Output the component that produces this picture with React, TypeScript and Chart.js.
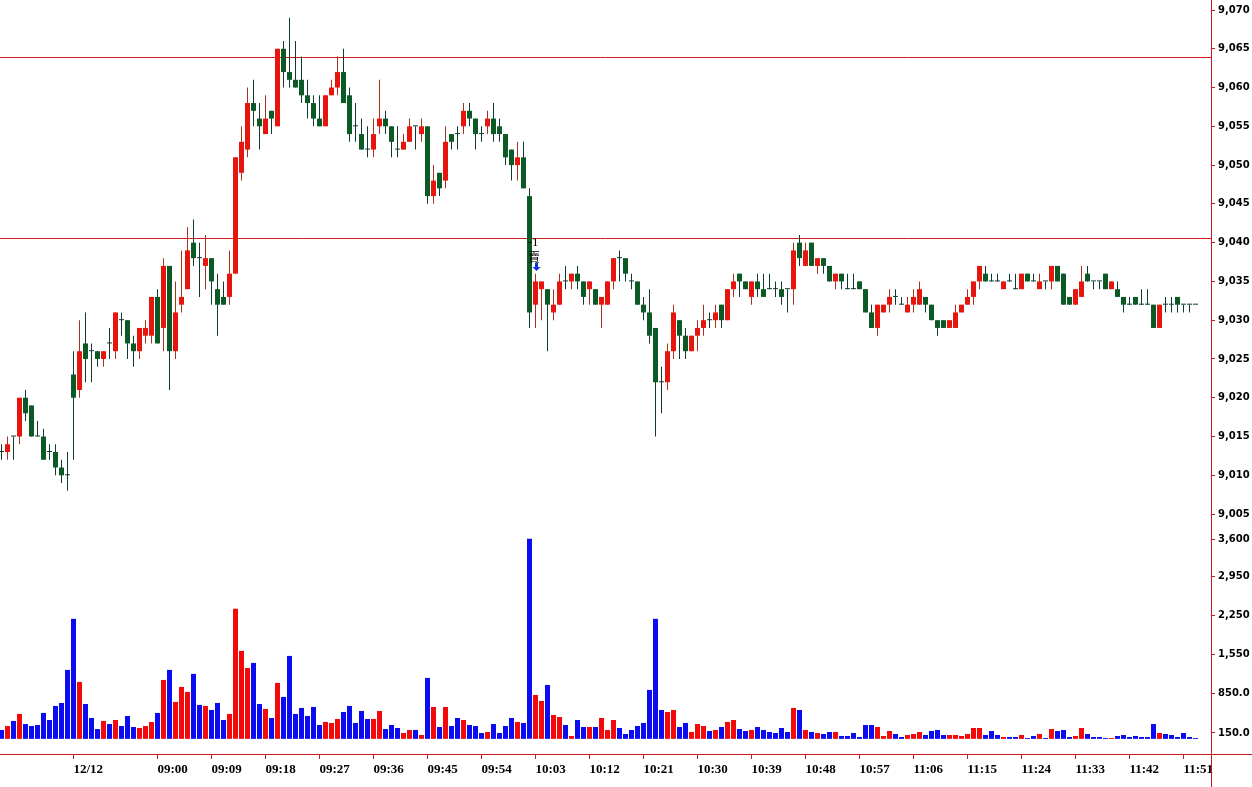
import React, { useEffect, useRef } from 'react';
import { Chart, registerables } from 'chart.js';

Chart.register(...registerables);

// ---- data (one entry per 1-minute bar) ----
const opens = [
  9013, 9013, 9015, 9015, 9020, 9019, 9015, 9015, 9013, 9013, 9011, 9010,
  9023, 9021, 9027, 9026, 9026, 9025, 9027, 9026, 9030, 9030, 9027, 9026, 9028, 9028,
  9033, 9029, 9037, 9026, 9032, 9034, 9040, 9038, 9037, 9038, 9034, 9033, 9033, 9036,
  9049, 9052, 9058, 9056, 9054, 9057, 9055, 9065, 9062, 9061, 9061, 9059, 9058, 9056,
  9055, 9059, 9060, 9062, 9059, 9055, 9054, 9052, 9052, 9055, 9056, 9055, 9052, 9052,
  9053, 9055, 9054, 9055, 9046, 9049, 9048, 9054, 9054, 9055, 9057, 9056, 9054, 9055,
  9056, 9055, 9054, 9052, 9050, 9051, 9046, 9032, 9034, 9034, 9031, 9032, 9035, 9035,
  9036, 9035, 9034, 9034, 9032, 9032, 9035, 9038, 9038, 9035, 9035, 9032, 9031, 9029,
  9022, 9022, 9026, 9030, 9028, 9026, 9028, 9029, 9030, 9030, 9032, 9030, 9034, 9036,
  9035, 9033, 9035, 9034, 9034, 9034, 9034, 9034, 9034, 9040, 9037, 9040, 9037, 9038,
  9037, 9035, 9036, 9034, 9034, 9035, 9034, 9031, 9029, 9031, 9032, 9033, 9032, 9031,
  9032, 9032, 9033, 9032, 9030, 9030, 9029, 9029, 9031, 9032, 9033, 9035, 9036, 9035,
  9035, 9034, 9035, 9034, 9034, 9036, 9035, 9034, 9035, 9035, 9037, 9036, 9033, 9032,
  9033, 9036, 9035, 9035, 9036, 9034, 9034, 9033, 9032, 9033, 9032, 9032, 9032, 9029,
  9032, 9032, 9033, 9032, 9032, 9032,
];
const highs = [
  9014, 9015, 9015, 9020, 9021, 9019, 9017, 9016, 9014, 9014, 9012, 9013,
  9026, 9030, 9031, 9027, 9026, 9026, 9029, 9031, 9031, 9030, 9028, 9029, 9030, 9033,
  9034, 9038, 9037, 9035, 9039, 9042, 9043, 9040, 9041, 9038, 9036, 9035, 9039, 9051,
  9055, 9060, 9061, 9058, 9059, 9057, 9065, 9066, 9069, 9066, 9064, 9061, 9059, 9059,
  9059, 9061, 9064, 9065, 9060, 9058, 9056, 9055, 9056, 9061, 9057, 9055, 9055, 9054,
  9056, 9055, 9056, 9055, 9050, 9049, 9055, 9054, 9055, 9058, 9058, 9056, 9055, 9057,
  9058, 9056, 9054, 9052, 9053, 9053, 9047, 9036, 9035, 9034, 9034, 9036, 9037, 9036,
  9037, 9035, 9035, 9034, 9033, 9035, 9038, 9039, 9038, 9036, 9035, 9033, 9034, 9029,
  9024, 9027, 9032, 9030, 9029, 9028, 9030, 9032, 9031, 9032, 9032, 9034, 9036, 9036,
  9035, 9035, 9036, 9036, 9036, 9035, 9035, 9034, 9040, 9041, 9040, 9040, 9038, 9038,
  9037, 9036, 9036, 9036, 9036, 9035, 9034, 9032, 9032, 9032, 9034, 9034, 9033, 9033,
  9034, 9035, 9033, 9032, 9030, 9030, 9030, 9032, 9032, 9034, 9035, 9037, 9037, 9036,
  9036, 9035, 9036, 9036, 9036, 9036, 9036, 9036, 9035, 9037, 9037, 9036, 9033, 9034,
  9037, 9037, 9035, 9035, 9036, 9035, 9035, 9033, 9033, 9033, 9034, 9034, 9032, 9032,
  9033, 9033, 9033, 9032, 9032, 9032,
];
const lows = [
  9012, 9012, 9012, 9014, 9017, 9015, 9015, 9012, 9012, 9010, 9009, 9008,
  9012, 9020, 9022, 9022, 9024, 9024, 9025, 9025, 9028, 9025, 9024, 9025, 9027, 9027,
  9027, 9026, 9021, 9025, 9031, 9034, 9037, 9033, 9034, 9032, 9028, 9032, 9032, 9036,
  9048, 9051, 9055, 9052, 9054, 9054, 9055, 9060, 9060, 9060, 9058, 9056, 9055, 9055,
  9055, 9059, 9059, 9058, 9053, 9053, 9052, 9051, 9051, 9054, 9054, 9051, 9051, 9052,
  9053, 9052, 9053, 9045, 9045, 9046, 9047, 9052, 9052, 9054, 9055, 9052, 9053, 9054,
  9053, 9053, 9050, 9048, 9048, 9047, 9029, 9029, 9030, 9026, 9030, 9032, 9034, 9034,
  9034, 9032, 9032, 9032, 9029, 9032, 9034, 9035, 9035, 9034, 9032, 9030, 9027, 9015,
  9018, 9021, 9025, 9025, 9025, 9026, 9026, 9028, 9029, 9029, 9029, 9030, 9033, 9033,
  9034, 9032, 9033, 9033, 9034, 9033, 9032, 9031, 9032, 9037, 9037, 9037, 9036, 9036,
  9035, 9034, 9034, 9034, 9034, 9034, 9031, 9029, 9028, 9031, 9031, 9032, 9032, 9031,
  9031, 9032, 9031, 9030, 9028, 9029, 9029, 9029, 9031, 9032, 9032, 9034, 9035, 9035,
  9035, 9034, 9035, 9034, 9034, 9035, 9035, 9034, 9034, 9034, 9035, 9032, 9032, 9032,
  9033, 9035, 9034, 9034, 9034, 9034, 9033, 9031, 9032, 9032, 9032, 9032, 9029, 9029,
  9031, 9031, 9031, 9031, 9031, 9032,
];
const closes = [
  9013, 9014, 9015, 9020, 9018, 9015, 9015, 9012, 9013, 9011, 9010, 9010,
  9020, 9026, 9025, 9026, 9025, 9026, 9027, 9031, 9030, 9027, 9026, 9029, 9029, 9033,
  9027, 9037, 9026, 9031, 9033, 9039, 9038, 9038, 9038, 9035, 9032, 9032, 9036, 9051,
  9053, 9058, 9057, 9055, 9056, 9056, 9065, 9062, 9061, 9060, 9059, 9058, 9056, 9055,
  9059, 9060, 9062, 9058, 9054, 9055, 9052, 9052, 9054, 9056, 9055, 9053, 9052, 9053,
  9055, 9055, 9055, 9046, 9048, 9047, 9053, 9053, 9054, 9057, 9056, 9054, 9054, 9056,
  9054, 9054, 9051, 9050, 9051, 9047, 9031, 9035, 9035, 9032, 9032, 9035, 9035, 9036,
  9035, 9033, 9035, 9032, 9033, 9035, 9038, 9038, 9036, 9035, 9032, 9031, 9028, 9022,
  9022, 9026, 9031, 9028, 9026, 9028, 9029, 9030, 9030, 9031, 9030, 9034, 9035, 9035,
  9034, 9035, 9034, 9033, 9034, 9034, 9033, 9034, 9039, 9038, 9039, 9037, 9038, 9037,
  9035, 9036, 9035, 9034, 9034, 9034, 9031, 9029, 9032, 9032, 9033, 9033, 9032, 9032,
  9033, 9034, 9032, 9030, 9029, 9029, 9030, 9031, 9032, 9033, 9035, 9037, 9035, 9035,
  9035, 9035, 9035, 9034, 9036, 9035, 9035, 9035, 9035, 9037, 9035, 9032, 9032, 9034,
  9035, 9035, 9035, 9035, 9034, 9035, 9033, 9032, 9032, 9032, 9032, 9032, 9029, 9032,
  9032, 9032, 9032, 9032, 9032, 9032,
];
const volumes = [
  204, 275, 365, 490, 311, 275, 293, 508, 382, 633, 686, 1276,
  2188, 1062, 668, 418, 221, 365, 311, 382, 275, 454, 257, 239, 275, 347,
  508, 1097, 1276, 704, 972, 883, 1205, 651, 633, 561, 686, 382, 490, 2367,
  1616, 1312, 1401, 668, 579, 418, 1044, 794, 1526, 490, 597, 454, 615, 293,
  347, 329, 400, 525, 633, 329, 543, 400, 400, 543, 221, 293, 239, 150,
  204, 204, 114, 1133, 615, 257, 615, 275, 418, 382, 293, 275, 150, 168,
  311, 150, 275, 418, 347, 329, 3618, 829, 722, 1008, 472, 436, 293, 96,
  382, 257, 257, 257, 418, 204, 382, 239, 132, 204, 275, 329, 919, 2188,
  561, 525, 561, 257, 329, 168, 311, 275, 186, 204, 257, 347, 382, 221,
  186, 204, 257, 204, 168, 150, 239, 168, 597, 561, 204, 168, 150, 132,
  168, 168, 96, 96, 150, 79, 293, 293, 257, 96, 186, 132, 79, 114,
  132, 168, 114, 186, 204, 114, 114, 114, 96, 132, 239, 239, 114, 186,
  114, 79, 79, 79, 114, 61, 96, 132, 61, 221, 186, 204, 79, 96,
  239, 132, 79, 79, 61, 61, 96, 114, 79, 96, 79, 79, 311, 150,
  132, 114, 79, 150, 79, 61,
];

const tickIndices = [12, 26, 35, 44, 53, 62, 71, 80, 89, 98, 107, 116, 125, 134, 143, 152, 161, 170, 179, 188, 197];
const tickLabels = ['12/12', '09:00', '09:09', '09:18', '09:27', '09:36', '09:45', '09:54', '10:03', '10:12', '10:21', '10:30', '10:39', '10:48', '10:57', '11:06', '11:15', '11:24', '11:33', '11:42', '11:51'];
const priceTicks = [9005, 9010, 9015, 9020, 9025, 9030, 9035, 9040, 9045, 9050, 9055, 9060, 9065, 9070];
const volTicks = [150, 850, 1550, 2250, 2950, 3600];
const volTickLabels = ['150.0', '850.0', '1,550', '2,250', '2,950', '3,600'];
const refLines = [9064, 9040.6];
const signalIndex = 89;
const signalTexts = ['-1', '賣'];

// ---- style / layout ----
const W = 1252;
const H = 787;
const AXIS_W = 41;
const XAXIS_H = 33;
const PX_PER_BAR = 6;
const X_MIN = -0.25;
const PRICE_MIN = 9003.33;
const PRICE_MAX = 9071.29;
const VOL_MIN = -225;
const VOL_MAX = 3827;
const VOL_BASE = 45;
const PRICE_WEIGHT = 527;
const VOL_WEIGHT = 227;

const UP = '#e6150e';
const DOWN = '#0b5a26';
const WICK_UP = '#a8321e';
const WICK_DOWN = '#103c30';
const VOL_UP = '#f20a0a';
const VOL_DOWN = '#0c0cf0';
const AXIS_RED = '#c81a1a';
const LINE_RED = '#d21c1c';

const fmtPrice = (v: number) => v.toLocaleString('en-US');

export default function App() {
  const ref = useRef<HTMLCanvasElement | null>(null);

  useEffect(() => {
    if (!ref.current) return;
    const idx = opens.map((_, i) => i);
    const isUp = (i: number) => closes[i] > opens[i];
    const isDown = (i: number) => closes[i] < opens[i];

    const linesPlugin = {
      id: 'refLines',
      beforeDatasetsDraw(chart: any) {
        const { ctx, chartArea } = chart;
        const ys = chart.scales.yPrice;
        ctx.save();
        ctx.strokeStyle = LINE_RED;
        ctx.lineWidth = 1;
        refLines.forEach((v) => {
          const y = Math.round(ys.getPixelForValue(v)) + 0.5;
          ctx.beginPath();
          ctx.moveTo(chartArea.left, y);
          ctx.lineTo(chartArea.right, y);
          ctx.stroke();
        });
        ctx.restore();
      },
      afterDatasetsDraw(chart: any) {
        const { ctx } = chart;
        const x = Math.round(chart.scales.x.getPixelForValue(signalIndex));
        const yH = Math.round(chart.scales.yPrice.getPixelForValue(highs[signalIndex]));
        ctx.save();
        ctx.fillStyle = '#000';
        ctx.textAlign = 'center';
        ctx.textBaseline = 'middle';
        ctx.font = '13px "Liberation Serif"';
        ctx.fillText(signalTexts[0], x - 3, yH - 31);
        ctx.font = '12px "Noto Sans CJK TC"';
        ctx.fillText(signalTexts[1], x - 2, yH - 17);
        ctx.fillStyle = '#1030e8';
        ctx.fillRect(x - 1, yH - 11, 3, 4);
        ctx.beginPath();
        ctx.moveTo(x - 3.5, yH - 7);
        ctx.lineTo(x + 4.5, yH - 7);
        ctx.lineTo(x + 0.5, yH - 3);
        ctx.closePath();
        ctx.fill();
        ctx.restore();
      },
      afterDraw(chart: any) {
        const { ctx, chartArea } = chart;
        ctx.save();
        ctx.strokeStyle = AXIS_RED;
        ctx.lineWidth = 1;
        const yb = Math.round(chartArea.bottom) + 0.5;
        const xr = Math.round(chartArea.right) + 0.5;
        ctx.beginPath();
        ctx.moveTo(0, yb);
        ctx.lineTo(chart.width, yb);
        ctx.moveTo(xr, 0);
        ctx.lineTo(xr, chart.height);
        ctx.stroke();
        ctx.restore();
      },
    };

    const chart = new Chart(ref.current, {
      type: 'bar',
      data: {
        datasets: [
          {
            label: 'body',
            data: idx.map((i) => ({ x: i, y: [opens[i], closes[i]] })) as any,
            yAxisID: 'yPrice',
            xAxisID: 'x',
            backgroundColor: idx.map((i) => (isUp(i) ? UP : isDown(i) ? DOWN : WICK_DOWN)),
            barThickness: 5,
            minBarLength: 1,
            grouped: false,
            inflateAmount: 0,
            borderWidth: 0,
            order: 0,
          } as any,
          {
            label: 'wick',
            data: idx.map((i) => ({ x: i, y: [lows[i], highs[i]] })) as any,
            yAxisID: 'yPrice',
            xAxisID: 'x',
            backgroundColor: idx.map((i) => (isUp(i) ? WICK_UP : WICK_DOWN)),
            barThickness: 1,
            grouped: false,
            inflateAmount: 0,
            borderWidth: 0,
            order: 1,
          } as any,
          {
            label: 'volume',
            data: idx.map((i) => ({ x: i, y: [VOL_BASE, volumes[i]] })) as any,
            yAxisID: 'yVol',
            xAxisID: 'x',
            backgroundColor: idx.map((i) => (isUp(i) ? VOL_UP : VOL_DOWN)),
            barThickness: 5,
            grouped: false,
            inflateAmount: 0,
            borderWidth: 0,
            order: 2,
          } as any,
        ],
      },
      options: {
        animation: false,
        responsive: true,
        maintainAspectRatio: false,
        layout: { padding: 0 },
        plugins: { legend: { display: false }, tooltip: { enabled: false } },
        scales: {
          x: {
            type: 'linear',
            position: 'bottom',
            min: X_MIN,
            max: X_MIN + (W - AXIS_W) / PX_PER_BAR,
            offset: false,
            afterBuildTicks: (s: any) => {
              s.ticks = tickIndices.map((v) => ({ value: v }));
            },
            afterFit: (s: any) => {
              s.height = XAXIS_H;
              s.paddingLeft = 0;
              s.paddingRight = 0;
            },
            ticks: {
              autoSkip: false,
              maxRotation: 0,
              minRotation: 0,
              align: 'start',
              padding: 3,
              color: '#000',
              font: { family: '"Liberation Serif"', size: 13, weight: 'bold' },
              callback: (v: any) => {
                const k = tickIndices.indexOf(Number(v));
                return k >= 0 ? tickLabels[k] : '';
              },
            },
            grid: { display: true, drawOnChartArea: false, offset: false, tickLength: 5, color: AXIS_RED },
            border: { display: true, color: AXIS_RED },
          },
          yPrice: {
            type: 'linear',
            position: 'right',
            stack: 'right',
            stackWeight: PRICE_WEIGHT,
            min: PRICE_MIN,
            max: PRICE_MAX,
            afterBuildTicks: (s: any) => {
              s.ticks = priceTicks.map((v) => ({ value: v }));
            },
            afterFit: (s: any) => {
              s.width = AXIS_W;
              s.paddingTop = 0;
              s.paddingBottom = 0;
            },
            ticks: {
              autoSkip: false,
              padding: 3,
              color: '#000',
              font: { family: '"DejaVu Sans"', size: 10, weight: 'bold' },
              callback: (v: any) => fmtPrice(Number(v)),
            },
            grid: { display: true, drawOnChartArea: false, tickLength: 4, color: AXIS_RED },
            border: { display: true, color: AXIS_RED },
          },
          yVol: {
            type: 'linear',
            position: 'right',
            stack: 'right',
            stackWeight: VOL_WEIGHT,
            min: VOL_MIN,
            max: VOL_MAX,
            afterBuildTicks: (s: any) => {
              s.ticks = volTicks.map((v) => ({ value: v }));
            },
            afterFit: (s: any) => {
              s.width = AXIS_W;
              s.paddingTop = 0;
              s.paddingBottom = 0;
            },
            ticks: {
              autoSkip: false,
              padding: 3,
              color: '#000',
              font: { family: '"DejaVu Sans"', size: 10, weight: 'bold' },
              callback: (v: any) => {
                const k = volTicks.indexOf(Number(v));
                return k >= 0 ? volTickLabels[k] : '';
              },
            },
            grid: { display: true, drawOnChartArea: false, tickLength: 4, color: AXIS_RED },
            border: { display: true, color: AXIS_RED },
          },
        } as any,
      },
      plugins: [linesPlugin as any],
    });
    return () => chart.destroy();
  }, []);

  return (
    <div style={{ position: 'absolute', left: 0, top: 0, width: W, height: H, background: '#fff' }}>
      <canvas ref={ref} />
    </div>
  );
}
